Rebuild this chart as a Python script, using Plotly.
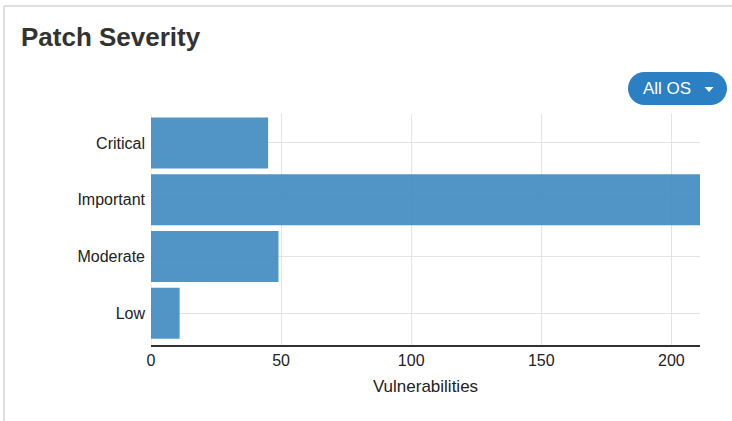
import plotly.graph_objects as go

categories = ["Critical", "Important", "Moderate", "Low"]
values = [45, 211, 49, 11]
x_ticks = [0, 50, 100, 150, 200]

W, H = 732, 421
L, R, T, B = 151, 32, 114, 76
PW, PH = W - L - R, H - T - B

def px(x):
    return (x - L) / PW

def py(y):
    return (H - B - y) / PH

fig = go.Figure(go.Bar(
    y=categories, x=values, orientation="h", width=0.9,
    marker=dict(color="rgba(62,137,192,0.9)", line=dict(width=0)),
))

# rounded pill button
x0, x1, y0, y1, r = 628, 727, 72, 105, 16.5
k = 0.55 * r
path = (
    f"M {px(x0+r)} {py(y0)} L {px(x1-r)} {py(y0)} "
    f"C {px(x1-r+k)} {py(y0)} {px(x1)} {py(y0+r-k)} {px(x1)} {py(y0+r)} "
    f"C {px(x1)} {py(y1-r+k)} {px(x1-r+k)} {py(y1)} {px(x1-r)} {py(y1)} "
    f"L {px(x0+r)} {py(y1)} "
    f"C {px(x0+r-k)} {py(y1)} {px(x0)} {py(y1-r+k)} {px(x0)} {py(y1-r)} "
    f"C {px(x0)} {py(y0+r-k)} {px(x0+r-k)} {py(y0)} {px(x0+r)} {py(y0)} Z"
)
caret = f"M {px(704.5)} {py(87)} L {px(713.5)} {py(87)} L {px(709)} {py(92)} Z"

shapes = [
    dict(type="path", xref="paper", yref="paper", path=path,
         fillcolor="#2a80c3", line=dict(width=0), layer="above"),
    dict(type="path", xref="paper", yref="paper", path=caret,
         fillcolor="white", line=dict(width=0), layer="above"),
    dict(type="line", xref="paper", yref="paper", x0=px(4), x1=px(732), y0=py(6), y1=py(6),
         line=dict(color="#d4d4d4", width=1.5)),
    dict(type="line", xref="paper", yref="paper", x0=px(4), x1=px(4), y0=py(6), y1=py(421),
         line=dict(color="#d4d4d4", width=1.5)),
]

annotations = [
    dict(text="<b>Patch Severity</b>", xref="paper", yref="paper", x=px(19), y=py(37),
         xanchor="left", yanchor="middle", showarrow=False,
         font=dict(family="Liberation Sans, Arial", size=26, color="#333333")),
    dict(text="All OS", xref="paper", yref="paper", x=px(641), y=py(88.5),
         xanchor="left", yanchor="middle", showarrow=False,
         font=dict(family="Liberation Sans, Arial", size=17, color="white")),
]

fig.update_layout(
    width=W, height=H,
    margin=dict(l=L, r=R, t=T, b=B),
    paper_bgcolor="white", plot_bgcolor="white",
    showlegend=False,
    shapes=shapes, annotations=annotations,
    font=dict(family="Liberation Sans, Arial", size=16, color="#222222"),
)
fig.update_xaxes(
    range=[0, 211], tickvals=x_ticks, showgrid=True, gridcolor="#e3e3e3", gridwidth=1,
    zeroline=False, showline=True, linecolor="#333333", linewidth=1.5,
    ticks="", tickfont=dict(size=16, color="#222222"),
    title=dict(text="Vulnerabilities", font=dict(size=17, color="#222222"), standoff=12),
)
fig.update_yaxes(
    categoryorder="array", categoryarray=categories[::-1], range=[-0.56, 3.51],
    showgrid=True, gridcolor="#e3e3e3", gridwidth=1, showline=False,
    ticks="", ticklabelstandoff=5, tickfont=dict(size=16, color="#222222"),
)
fig.add_vline(x=0, line=dict(color="#d9d9d9", width=1), layer="below")

fig.write_html("out.html")
